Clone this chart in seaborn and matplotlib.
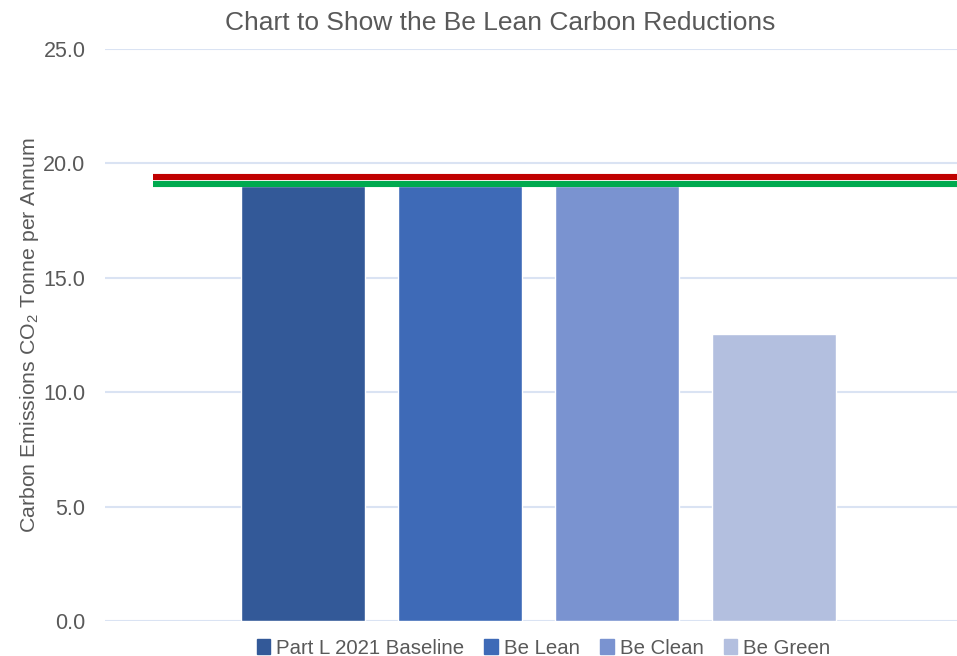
import matplotlib
matplotlib.use("Agg")
import matplotlib.pyplot as plt
import seaborn as sns
import pandas as pd
from matplotlib.patches import Patch

# data
series = ["Part L 2021 Baseline", "Be Lean", "Be Clean", "Be Green"]
emissions = [19.0, 19.0, 19.0, 12.56]
bar_colors = ["#335998", "#3e6ab7", "#7a93d0", "#b3bfdf"]

target_values = [19.4, 19.12]          # red / green reference lines
target_colors = ["#c00000", "#00aa4f"]

yticks = [0, 5, 10, 15, 20, 25]

sns.set_theme(style="white")
plt.rcParams["font.family"] = ["Liberation Sans", "DejaVu Sans"]
plt.rcParams["mathtext.fontset"] = "custom"
plt.rcParams["mathtext.rm"] = "Liberation Sans"
plt.rcParams["mathtext.it"] = "Liberation Sans:italic"

text_grey = "#595959"
grid_col = "#dae3f3"

df = pd.DataFrame({"series": series, "value": emissions})

fig = plt.figure(figsize=(9.57, 6.56), dpi=100)
ax = fig.add_axes([0.1097, 0.0534, 0.8903, 0.8719])

sns.barplot(data=df, x="series", y="value", hue="series",
            palette=bar_colors, width=0.79, saturation=1,
            legend=False, ax=ax, zorder=2)

ax.set_xlim(-1.261, 4.166)
ax.set_ylim(0, 25)
ax.set_yticks(yticks)
ax.set_yticklabels([f"{v:.1f}" for v in yticks], fontsize=15.5, color=text_grey)
ax.tick_params(axis="y", length=0, pad=14)
ax.set_xticks([])
ax.set_xlabel("")
ax.set_ylabel("Carbon Emissions CO$_2$ Tonne per Annum", fontsize=15.3, color=text_grey, labelpad=2)

for v in yticks:
    ax.axhline(v, color=grid_col, linewidth=1.5, zorder=1)

# target lines (drawn on top, red above green)
for val, col in zip(target_values, target_colors):
    ax.hlines(val, -0.955, 4.166, color=col, linewidth=4.4, zorder=3)

for s in ax.spines.values():
    s.set_visible(False)

fig.suptitle("Chart to Show the Be Lean Carbon Reductions", x=0.523, y=0.983,
             fontsize=19, color=text_grey)

handles = [Patch(color=c, label=l) for c, l in zip(bar_colors, series)]
fig.legend(handles=handles, loc="center", bbox_to_anchor=(0.568, 0.012),
           ncol=4, frameon=False, fontsize=14.7, labelcolor=text_grey,
           handlelength=0.65, handleheight=0.7, handletextpad=0.3, columnspacing=1.0)

fig.savefig("out.png", dpi=100)
